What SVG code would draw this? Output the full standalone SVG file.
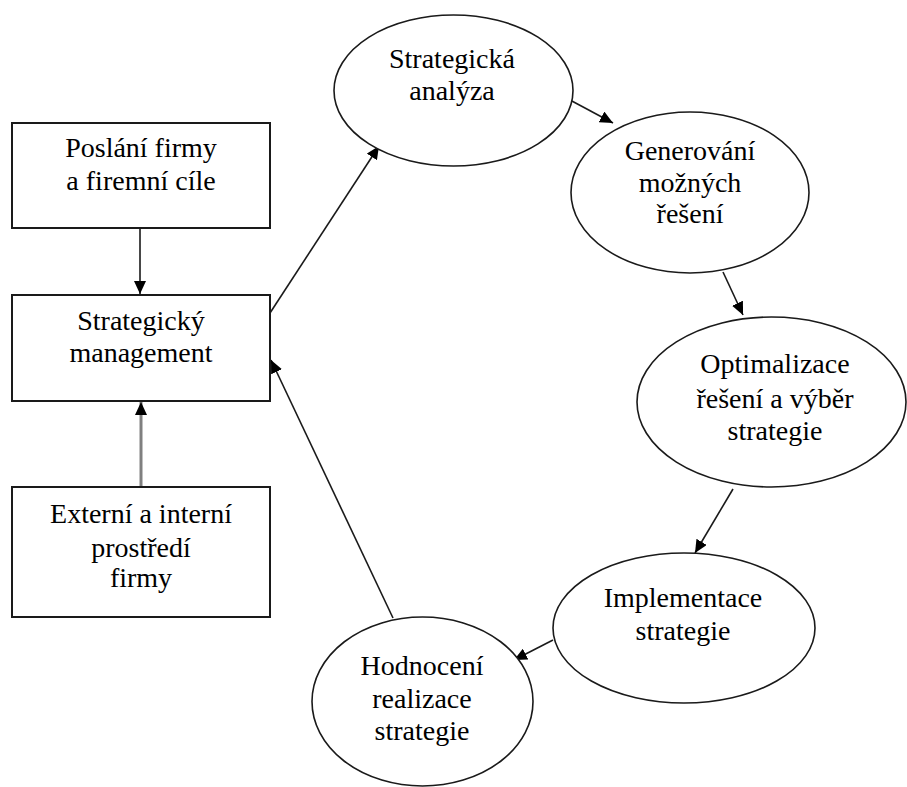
<svg xmlns="http://www.w3.org/2000/svg" width="907" height="787" viewBox="0 0 907 787">
<style>
.box{fill:#fff;stroke:#1a1a1a;stroke-width:2}
.ell{fill:#fff;stroke:#1a1a1a;stroke-width:1.6}
text{font-family:'Liberation Serif','Times New Roman',Times,serif;font-size:28px;fill:#000;text-anchor:middle}
.c{stroke:#1a1a1a;stroke-width:1.6;fill:none;marker-end:url(#ah)}
.g{stroke:#808080;stroke-width:3;fill:none;marker-end:url(#ah)}
</style>
<defs>
<marker id="ah" markerUnits="userSpaceOnUse" markerWidth="14" markerHeight="12" refX="13" refY="6" orient="auto">
<path d="M0,0 L13,6 L0,12 z" fill="#000"/>
</marker>
</defs>
<rect width="907" height="787" fill="#fff"/>
<g id="connectors">
<line class="c" x1="140" y1="228" x2="140" y2="294"/>
<line class="g" x1="141" y1="487" x2="141" y2="402"/>
<line class="c" x1="270" y1="313" x2="379" y2="146"/>
<line class="c" x1="570" y1="100" x2="613" y2="123"/>
<line class="c" x1="723" y1="272" x2="743" y2="315"/>
<line class="c" x1="733" y1="489" x2="695" y2="553"/>
<line class="c" x1="553" y1="640" x2="514" y2="660"/>
<line class="c" x1="393" y1="618" x2="271" y2="360"/>
</g>
<g id="n1">
<rect class="box" x="12" y="123" width="258" height="105"/>
<text x="141" y="157">Poslání firmy</text>
<text x="141" y="190">a firemní cíle</text>
</g>
<g id="n2">
<rect class="box" x="12" y="295" width="258" height="106"/>
<text x="141" y="330">Strategický</text>
<text x="141" y="362">management</text>
</g>
<g id="n3">
<rect class="box" x="12" y="487" width="258" height="130"/>
<text x="141" y="523">Externí a interní</text>
<text x="141" y="557">prostředí</text>
<text x="141" y="587">firmy</text>
</g>
<g id="e1">
<ellipse class="ell" cx="453.5" cy="90.5" rx="119.5" ry="75.5"/>
<text x="452" y="68">Strategická</text>
<text x="452" y="100">analýza</text>
</g>
<g id="e2">
<ellipse class="ell" cx="690" cy="192.5" rx="119" ry="80.5"/>
<text x="690" y="160">Generování</text>
<text x="690" y="192">možných</text>
<text x="690" y="223">řešení</text>
</g>
<g id="e3">
<ellipse class="ell" cx="771.5" cy="402" rx="134.5" ry="85"/>
<text x="775" y="373">Optimalizace</text>
<text x="775" y="408">řešení a výběr</text>
<text x="775" y="440">strategie</text>
</g>
<g id="e4">
<ellipse class="ell" cx="684" cy="628" rx="131" ry="75"/>
<text x="683" y="607">Implementace</text>
<text x="683" y="640">strategie</text>
</g>
<g id="e5">
<ellipse class="ell" cx="422.5" cy="701.5" rx="110.5" ry="84.5"/>
<text x="422" y="675">Hodnocení</text>
<text x="422" y="708">realizace</text>
<text x="422" y="740">strategie</text>
</g>
</svg>
